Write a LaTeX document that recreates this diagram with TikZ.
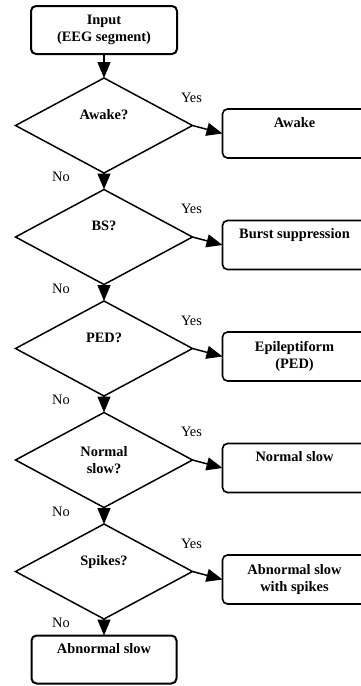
\documentclass[tikz,border=0pt]{standalone}
\usepackage{fontspec}
\setmainfont{Liberation Serif}
\usetikzlibrary{arrows.meta,positioning,shapes.geometric}

\begin{document}
\fontsize{14.4}{17}\selectfont
\begin{tikzpicture}[
  x=1pt,y=1pt,
  termbox/.style={draw,line width=2pt,rounded corners=5pt,minimum width=146pt,minimum height=48pt,align=center,inner sep=0pt,outer sep=0pt,font=\bfseries},
  outbox/.style={draw,line width=1.6pt,rounded corners=5pt,minimum width=144pt,minimum height=49pt,align=center,inner sep=0pt,outer sep=0pt,font=\bfseries},
  decision/.style={draw,diamond,aspect=1.86,line width=1.5pt,minimum width=177pt,minimum height=95pt,inner sep=0pt,outer sep=0pt,align=center,font=\bfseries},
  arrow/.style={-{Triangle[length=16pt,width=13pt]},line width=1.5pt},
  lbl/.style={inner sep=0pt},
]
\useasboundingbox (0,0) rectangle (360,-686);
\node[termbox] (input) at (104,-30) {Input\\(EEG segment)};
\node[decision,below=24pt of input] (awake) {Awake?\\\strut};
\node[decision,below=16.5pt of awake] (bs) {BS?\\\strut};
\node[decision,below=16.5pt of bs] (ped) {PED?\\\strut};
\node[decision,below=16.5pt of ped] (normal) {Normal\\slow?};
\node[decision,below=16.5pt of normal] (spikes) {Spikes?\\\strut};
\node[termbox,minimum width=145pt,below=16.5pt of spikes] (abnslow) {Abnormal slow\\\strut};
\node[outbox,right=30pt of awake,yshift=-8pt] (rawake) {Awake\\\strut};
\node[outbox,right=30pt of bs,yshift=-8pt] (rbs) {Burst suppression\\\strut};
\node[outbox,right=30pt of ped,yshift=-8pt] (rped) {Epileptiform\\(PED)};
\node[outbox,right=30pt of normal,yshift=-8pt] (rnormal) {Normal slow\\\strut};
\node[outbox,right=30pt of spikes,yshift=-8pt] (rspikes) {Abnormal slow\\with spikes};
\draw[arrow] (input) -- (awake);
\draw[arrow] (awake) -- (bs);
\draw[arrow] (bs) -- (ped);
\draw[arrow] (ped) -- (normal);
\draw[arrow] (normal) -- (spikes);
\draw[arrow] (spikes) -- (abnslow);
\draw[arrow] (awake.east) -- (rawake.west);
\draw[arrow] (bs.east) -- (rbs.west);
\draw[arrow] (ped.east) -- (rped.west);
\draw[arrow] (normal.east) -- (rnormal.west);
\draw[arrow] (spikes.east) -- (rspikes.west);
\foreach \d in {awake,bs,ped,normal,spikes}{
  \node[lbl,xshift=-1pt,yshift=28pt] at (\d.east) {Yes};
  \node[lbl,xshift=-43pt,yshift=-4pt] at (\d.south) {No};
}
\end{tikzpicture}
\end{document}
